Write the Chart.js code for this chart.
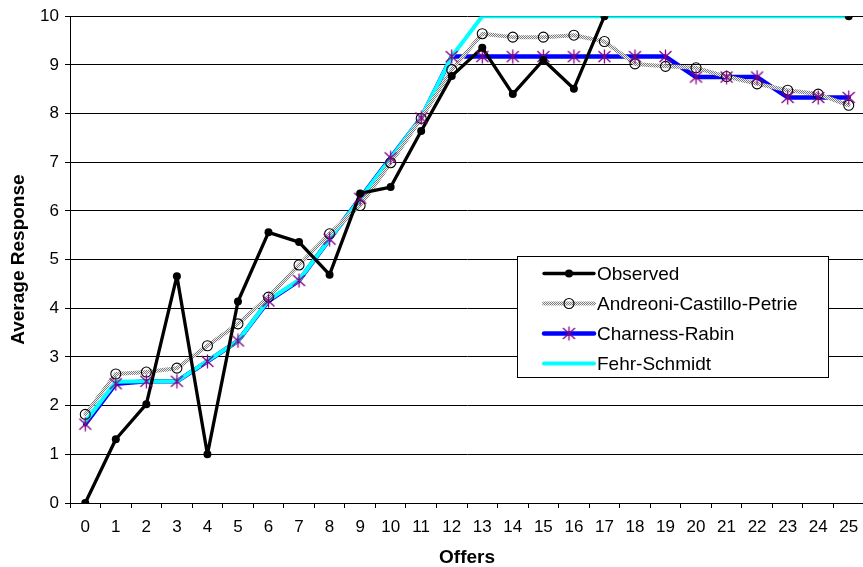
<!DOCTYPE html>
<html><head><meta charset="utf-8">
<style>
html,body{margin:0;padding:0;background:#fff;overflow:hidden;width:863px;height:567px;}
#wrap{position:absolute;left:0;top:0;width:871px;height:567px;}
</style>
<script src="https://cdn.jsdelivr.net/npm/chart.js@4.4.1/dist/chart.umd.min.js"></script>
</head><body>
<div id="wrap"><canvas id="c" width="871" height="567"></canvas></div>
<script>
const offers = ['0','1','2','3','4','5','6','7','8','9','10','11','12','13','14','15','16','17','18','19','20','21','22','23','24','25'];
const observed = [0, 1.31, 2.03, 4.66, 1.0, 4.14, 5.56, 5.36, 4.69, 6.36, 6.49, 7.64, 8.77, 9.35, 8.4, 9.1, 8.51, 10, null, null, null, null, null, null, null, 10];
const andreoniCastilloPetrie = [1.82, 2.65, 2.69, 2.77, 3.23, 3.68, 4.23, 4.89, 5.53, 6.11, 6.99, 7.9, 8.9, 9.64, 9.57, 9.57, 9.61, 9.48, 9.02, 8.97, 8.94, 8.76, 8.61, 8.48, 8.4, 8.17];
const charnessRabin = [1.62, 2.45, 2.5, 2.5, 2.91, 3.33, 4.15, 4.57, 5.42, 6.26, 7.09, 7.91, 9.17, 9.17, 9.17, 9.17, 9.17, 9.17, 9.17, 9.17, 8.75, 8.75, 8.75, 8.33, 8.33, 8.33];
const fehrSchmidt = [1.67, 2.49, 2.5, 2.5, 2.92, 3.33, 4.17, 4.58, 5.42, 6.25, 7.08, 7.92, 9.17, 10, 10, 10, 10, 10, 10, 10, 10, 10, 10, 10, 10, 10];
const seriesNames = ['Observed', 'Andreoni-Castillo-Petrie', 'Charness-Rabin', 'Fehr-Schmidt'];
const xTitle = 'Offers';
const yTitle = 'Average Response';
const yMin = 0, yMax = 10, yStep = 1;

const FAMILY = '"Liberation Sans", Arial, sans-serif';
const canvas = document.getElementById('c');
const mainCtx = canvas.getContext('2d');

function makeChecker() {
  const c = document.createElement('canvas');
  c.width = 2; c.height = 2;
  const g = c.getContext('2d');
  g.fillStyle = '#f0f0f0'; g.fillRect(0, 0, 2, 2);
  g.fillStyle = '#7c7c7c'; g.fillRect(0, 0, 1, 1); g.fillRect(1, 1, 1, 1);
  return mainCtx.createPattern(c, 'repeat');
}
function makeAsterisk() {
  const c = document.createElement('canvas');
  c.width = 15; c.height = 15;
  const g = c.getContext('2d');
  g.strokeStyle = '#800080'; g.lineWidth = 1.3;
  g.beginPath();
  g.moveTo(1.5, 2); g.lineTo(13.5, 13);
  g.moveTo(13.5, 2); g.lineTo(1.5, 13);
  g.moveTo(7.5, 0.5); g.lineTo(7.5, 14.5);
  g.stroke();
  return c;
}
const checker = makeChecker();
const asterisk = makeAsterisk();

const lineBase = { tension: 0, pointRadius: 0, pointHoverRadius: 0, spanGaps: false, fill: false, borderCapStyle: 'round' };
const markBase = { showLine: false, borderWidth: 0 };

const datasets = [
  Object.assign({ label: seriesNames[0], data: observed, borderColor: '#000', borderWidth: 3.3, order: 3, borderJoinStyle: 'round' }, lineBase),
  Object.assign({ label: seriesNames[1], data: andreoniCastilloPetrie, borderColor: checker, borderWidth: 4, order: 4, borderJoinStyle: 'round' }, lineBase),
  Object.assign({ label: seriesNames[3], data: fehrSchmidt, borderColor: '#00ffff', borderWidth: 4, order: 5, borderJoinStyle: 'miter' }, lineBase),
  Object.assign({ label: seriesNames[2], data: charnessRabin, borderColor: '#0000ff', borderWidth: 4.5, order: 6, borderJoinStyle: 'round' }, lineBase),
  Object.assign({ label: seriesNames[0] + ' markers', data: observed, pointStyle: 'circle', pointRadius: 4, pointBackgroundColor: '#000', pointBorderColor: '#000', pointBorderWidth: 0, order: 0 }, markBase),
  Object.assign({ label: seriesNames[2] + ' markers', data: charnessRabin, pointStyle: asterisk, pointRadius: 7, order: 1 }, markBase),
  Object.assign({ label: seriesNames[1] + ' markers', data: andreoniCastilloPetrie, pointStyle: 'circle', pointRadius: 5, pointBackgroundColor: 'rgba(0,0,0,0)', pointBorderColor: '#000', pointBorderWidth: 1.1, order: 2 }, markBase)
];

const boxLegend = {
  id: 'boxLegend',
  afterDraw(chart) {
    const ctx = chart.ctx;
    const x0 = 517, y0 = 256, w = 311, h = 121;
    const rowY0 = 272.7, rowStep = 30.2, lineL = 544, lineR = 594, markX = 569, textX = 597;
    ctx.save();
    ctx.fillStyle = '#fff';
    ctx.fillRect(x0, y0, w, h);
    ctx.strokeStyle = '#000'; ctx.lineWidth = 1;
    ctx.strokeRect(x0 + 0.5, y0 + 0.5, w, h);
    const styles = [
      { color: '#000', width: 3.3, mark: 'dot' },
      { color: checker, width: 4, mark: 'ring' },
      { color: '#0000ff', width: 4.5, mark: 'ast' },
      { color: '#00ffff', width: 4, mark: null }
    ];
    ctx.font = '19px ' + FAMILY;
    ctx.textBaseline = 'middle';
    ctx.textAlign = 'left';
    for (let i = 0; i < seriesNames.length; i++) {
      const y = Math.round(rowY0 + i * rowStep) + 0.5;
      const s = styles[i];
      ctx.strokeStyle = s.color; ctx.lineWidth = s.width; ctx.lineCap = 'round';
      ctx.beginPath(); ctx.moveTo(lineL, y); ctx.lineTo(lineR, y); ctx.stroke();
      if (s.mark === 'dot') {
        ctx.fillStyle = '#000'; ctx.beginPath(); ctx.arc(markX, y, 4, 0, Math.PI * 2); ctx.fill();
      } else if (s.mark === 'ring') {
        ctx.strokeStyle = '#000'; ctx.lineWidth = 1.1; ctx.beginPath(); ctx.arc(markX, y, 5, 0, Math.PI * 2); ctx.stroke();
      } else if (s.mark === 'ast') {
        ctx.drawImage(asterisk, markX - 7.5, y - 7.5);
      }
      ctx.fillStyle = '#000';
      ctx.fillText(seriesNames[i], textX, y + 1);
    }
    ctx.restore();
  }
};

new Chart(canvas, {
  type: 'line',
  data: { labels: offers, datasets: datasets },
  options: {
    responsive: false,
    animation: false,
    devicePixelRatio: 1,
    layout: { padding: { top: 14, right: 0, bottom: 0, left: 0 } },
    plugins: { legend: { display: false }, tooltip: { enabled: false }, title: { display: false } },
    events: [],
    scales: {
      x: {
        type: 'category',
        offset: true,
        grid: { display: true, drawOnChartArea: false, drawTicks: true, tickLength: 5, color: '#000', offset: true, lineWidth: 1 },
        border: { display: true, color: '#000', width: 1 },
        ticks: { color: '#000', font: { family: FAMILY, size: 17 }, padding: 9, autoSkip: false, maxRotation: 0, minRotation: 0 },
        title: { display: true, text: xTitle, color: '#000', font: { family: FAMILY, size: 19, weight: 'bold', lineHeight: 1 }, padding: { top: 0, bottom: 0 } },
        afterFit(s) { s.height = 64; }
      },
      y: {
        min: yMin, max: yMax,
        grid: { color: '#000', lineWidth: 1, drawTicks: true, tickLength: 5 },
        border: { display: true, color: '#000', width: 1 },
        ticks: { stepSize: yStep, color: '#000', font: { family: FAMILY, size: 17 }, padding: 6 },
        title: { display: true, text: yTitle, color: '#000', font: { family: FAMILY, size: 19, weight: 'bold', lineHeight: 1 }, padding: { top: 9.5, bottom: 0 } },
        afterFit(s) { s.width = 70; }
      }
    }
  },
  plugins: [boxLegend]
});
</script>
</body></html>
